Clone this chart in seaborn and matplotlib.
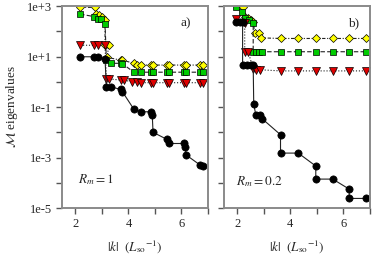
import matplotlib
matplotlib.use('Agg')
from matplotlib import pyplot as plt
from matplotlib.ticker import FixedLocator, FixedFormatter, NullLocator
import seaborn as sns

# panel a) Rm = 1
ka_black = [2.18, 2.72, 2.85, 3.12, 3.17, 3.34, 3.71, 3.77, 4.21, 4.46, 4.84, 4.9, 4.93, 5.46, 5.55, 6.08, 6.14, 6.18, 6.71, 6.83]
va_black = [9.8, 9.8, 9.8, 7.8, 0.63, 0.63, 0.5, 0.41, 0.081, 0.065, 0.065, 0.048, 0.01, 0.0052, 0.0036, 0.0036, 0.0027, 0.00126, 0.0005, 0.00048]
ka_red = [2.18, 2.72, 2.85, 3.12, 3.17, 3.27, 3.71, 3.84, 4.13, 4.32, 4.46, 4.84, 4.93, 5.46, 5.55, 6.08, 6.18, 6.71, 6.83]
va_red = [28, 28, 28, 28, 1.3, 1.3, 1.17, 1.17, 1.0, 0.95, 0.92, 0.92, 0.92, 0.92, 0.92, 0.92, 0.92, 0.92, 0.92]
ka_green = [2.18, 2.72, 2.85, 2.98, 3.12, 3.17, 3.34, 3.71, 3.77, 4.21, 4.46, 4.84, 4.93, 5.46, 5.55, 6.08, 6.18, 6.71, 6.83]
va_green = [480, 380, 320, 300, 200, 7.2, 5.4, 5.4, 5.2, 2.4, 2.4, 2.4, 2.4, 2.4, 2.4, 2.4, 2.4, 2.4, 2.4]
ka_yellow = [2.18, 2.75, 2.78, 2.9, 3.02, 3.12, 3.12, 3.26, 3.2, 3.71, 3.77, 4.21, 4.33, 4.46, 4.84, 4.93, 5.46, 5.55, 6.08, 6.18, 6.71, 6.83]
va_yellow = [890, 890, 500, 430, 370, 290, 29, 29, 9.3, 7.2, 7.2, 5.4, 4.6, 4.6, 4.6, 4.6, 4.6, 4.6, 4.6, 4.6, 4.6, 4.6]

# panel b) Rm = 0.2
kb_black = [1.97, 2.12, 2.2, 2.2, 2.35, 2.5, 2.6, 2.62, 2.7, 2.85, 2.93, 3.63, 3.63, 4.3, 4.96, 4.96, 5.6, 6.22, 6.22, 6.87]
vb_black = [240, 240, 240, 4.6, 4.6, 4.6, 4.6, 0.13, 0.048, 0.048, 0.035, 0.008, 0.0015, 0.0015, 0.00046, 0.00014, 0.00014, 0.000056, 0.000024, 0.000024]
kb_red = [1.97, 2.28, 2.28, 2.41, 2.6, 2.72, 2.85, 3.63, 4.3, 4.96, 5.6, 6.22, 6.87]
vb_red = [320, 205, 15.5, 15.5, 3.3, 3.0, 3.0, 2.7, 2.7, 2.7, 2.7, 2.7, 2.7]
kb_green = [1.97, 2.19, 2.3, 2.45, 2.6, 2.6, 2.7, 2.82, 2.95, 3.63, 4.3, 4.96, 5.6, 6.22, 6.87]
vb_green = [930, 590, 330, 280, 210, 15.5, 15.5, 15.5, 15.5, 15.5, 15.5, 15.5, 15.5, 15.5, 15.5]
kb_yellow = [2.22, 2.3, 2.4, 2.5, 2.6, 2.66, 2.8, 2.9, 3.63, 4.3, 4.96, 5.6, 6.22, 6.87]
vb_yellow = [930, 380, 330, 290, 240, 85, 85, 55, 52, 52, 52, 52, 52, 52]

ytick_vals = [1e-5, 1e-4, 1e-3, 1e-2, 1e-1, 1e0, 1e1, 1e2, 1e3]
ytick_labels = ['1e-5', '', '1e-3', '', '1e-1', '', '1e+1', '', '1e+3']
xtick_vals = [2, 3, 4, 5, 6, 7]
xtick_labels = ['2', '', '4', '', '6', '']

sns.set_style('white')
plt.rcParams['font.family'] = ['Liberation Serif', 'DejaVu Serif']
plt.rcParams['mathtext.fontset'] = 'stix'
plt.rcParams['font.size'] = 9

fig = plt.figure(figsize=(3.74, 2.63), dpi=100)
ax_a = fig.add_axes([0.166, 0.209, 0.390, 0.768])
ax_b = fig.add_axes([0.599, 0.209, 0.390, 0.768])

styles = [
    ('yellow', '#ffff00', 'D', (0, (3, 1.5, 1, 1.5)), 4.2),
    ('green', '#00cc00', 's', (0, (4, 2)), 4.8),
    ('red', '#e00000', 'v', ':', 5.2),
    ('black', 'black', 'o', '-', 5.2),
]

series = {
    'a': {'black': (ka_black, va_black), 'red': (ka_red, va_red),
          'green': (ka_green, va_green), 'yellow': (ka_yellow, va_yellow)},
    'b': {'black': (kb_black, vb_black), 'red': (kb_red, vb_red),
          'green': (kb_green, vb_green), 'yellow': (kb_yellow, vb_yellow)},
}

for name, ax in [('a', ax_a), ('b', ax_b)]:
    for key, fc, mk, ls, ms in styles:
        k, v = series[name][key]
        sns.lineplot(x=k, y=v, ax=ax, sort=False, estimator=None,
                     color='#222222', linestyle=ls, linewidth=0.8,
                     marker=mk, markersize=ms, markerfacecolor=fc,
                     markeredgecolor='black', markeredgewidth=0.5)
    ax.set_yscale('log')
    ax.set_ylim(1e-5, 1e3)
    ax.set_xlim(1.5, 7)
    ax.yaxis.set_major_locator(FixedLocator(ytick_vals))
    ax.yaxis.set_minor_locator(NullLocator())
    ax.xaxis.set_major_locator(FixedLocator(xtick_vals))
    ax.xaxis.set_major_formatter(FixedFormatter(xtick_labels))
    for s in ax.spines.values():
        s.set_color('#8a8a8a')
        s.set_linewidth(1.4)
    ax.tick_params(axis='both', which='major', direction='out', length=4,
                   width=1.0, color='#555555', labelsize=9, pad=3,
                   left=True, bottom=True)
    ax.set_xlabel(r'$|k|\ \ (L_{\mathrm{so}}{}^{-1})$', fontsize=9.5, labelpad=6)

ax_a.yaxis.set_major_formatter(FixedFormatter(ytick_labels))
ax_b.yaxis.set_major_formatter(FixedFormatter([''] * len(ytick_vals)))
ax_a.set_ylabel(r'$\mathcal{M}$ eigenvalues', fontsize=9.5, labelpad=5)

ax_a.text(0.85, 0.915, 'a)', transform=ax_a.transAxes, ha='center', va='center', fontsize=9.5)
ax_b.text(0.89, 0.915, 'b)', transform=ax_b.transAxes, ha='center', va='center', fontsize=9.5)
ax_a.text(0.11, 0.14, r'$R_m = 1$', transform=ax_a.transAxes, ha='left', va='center', fontsize=9.5)
ax_b.text(0.08, 0.13, r'$R_m = \mathrm{0.2}$', transform=ax_b.transAxes, ha='left', va='center', fontsize=9.5)

fig.savefig('out.png', dpi=100)
